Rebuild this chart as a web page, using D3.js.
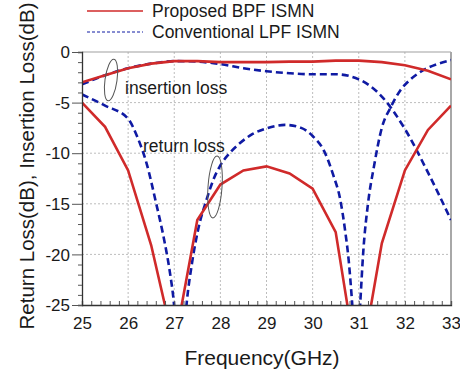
<!DOCTYPE html>
<html lang="en">
<head>
    <meta charset="UTF-8">
    <title>ISMN</title>
    <script src="https://d3js.org/d3.v7.min.js"></script>
    <style>
        body { margin: 0; background: #fff; }
        text { font-family: "Liberation Sans", Arial, sans-serif; fill: #1a1a1a; }
    </style>
</head>
<body>
    <div class="canvas"></div>
    <script>
      // frequency grid (GHz) shared by the proposed curves and conventional IL
      const freqs = [25, 25.5, 26, 26.5, 27, 27.5, 28, 28.5, 29, 29.5, 30, 30.5, 31, 31.5, 32, 32.5, 33];
      const proposedIL = [-3.0, -2.3, -1.6, -1.15, -0.9, -0.9, -1.0, -1.0, -1.0, -0.95, -0.95, -0.85, -0.85, -1.0, -1.3, -1.85, -2.7];
      const proposedRL = [-5.0, -7.4, -11.7, -19.1, -29, -16.6, -13.1, -11.7, -11.3, -12.0, -13.5, -17.8, -32, -18.9, -11.7, -7.7, -5.3];
      const conventionalIL = [-3.2, -2.3, -1.6, -1.15, -0.9, -0.95, -1.2, -1.6, -1.9, -2.1, -2.2, -2.2, -2.7, -4.4, -7.6, -11.9, -16.6];
      // conventional return loss is read more densely around the notches
      const convRLFreq = [25, 25.5, 26, 26.2, 26.4, 26.6, 26.8, 26.9, 27.0, 27.1, 27.18, 27.27, 27.38, 27.53, 27.7, 27.85, 28.0, 28.2, 28.4, 28.7, 29.0, 29.4, 29.75, 30.0, 30.25, 30.45, 30.6, 30.7, 30.78, 30.86, 30.95, 31.03, 31.1, 31.2, 31.33, 31.5, 31.7, 31.9, 32.1, 32.4, 32.7, 33];
      const convRL = [-4.2, -5.3, -6.6, -8.4, -11.0, -14.8, -19.0, -21.6, -25.2, -32, -30, -24.8, -21.0, -17.3, -14.6, -12.6, -11.2, -10.0, -9.1, -8.1, -7.55, -7.2, -7.5, -8.3, -9.8, -12.2, -14.6, -17.5, -20.5, -25, -31, -25, -19.6, -15, -11.3, -7.5, -5.4, -3.8, -2.8, -1.8, -1.2, -0.8];

      const xTicks = [25, 26, 27, 28, 29, 30, 31, 32, 33];
      const yTicks = [0, -5, -10, -15, -20, -25];
      const legendLabels = ['Proposed BPF ISMN', 'Conventional LPF ISMN'];

      const width = 460;
      const height = 372;
      const [ml, mr, mt, mb] = [82, 9, 52, 67];

      const RED = '#d02a2a';
      const BLUE = '#0f1aa3';

      const svg = d3.select('.canvas')
                      .append('svg')
                      .attr('width', width)
                      .attr('height', height);

      const x = d3.scaleLinear().domain([25, 33]).range([ml, width - mr]);
      const y = d3.scaleLinear().domain([-25, 0]).range([height - mb, mt]);

      // grid
      const grid = svg.append('g');
      grid.selectAll('.gx').data(xTicks.slice(1, -1)).enter()
        .append('line')
        .attr('x1', d => x(d)).attr('x2', d => x(d))
        .attr('y1', y(0)).attr('y2', y(-25))
        .attr('stroke', '#bdbdbd').attr('stroke-dasharray', '2,2');
      grid.selectAll('.gy').data(yTicks.slice(1, -1)).enter()
        .append('line')
        .attr('x1', x(25)).attr('x2', x(33))
        .attr('y1', d => y(d)).attr('y2', d => y(d))
        .attr('stroke', '#bdbdbd').attr('stroke-dasharray', '2,2');

      // frame: top and right in grey
      svg.append('line')
        .attr('x1', x(25)).attr('x2', x(33)).attr('y1', y(0)).attr('y2', y(0))
        .attr('stroke', '#a0a0a0').attr('stroke-width', 1.2);
      svg.append('line')
        .attr('x1', x(33)).attr('x2', x(33)).attr('y1', y(0)).attr('y2', y(-25))
        .attr('stroke', '#a8a8a8').attr('stroke-width', 2);

      // curves
      svg.append('clipPath').attr('id', 'plot')
        .append('rect')
        .attr('x', x(25)).attr('y', y(0))
        .attr('width', x(33) - x(25)).attr('height', y(-25) - y(0));

      const plot = svg.append('g').attr('clip-path', 'url(#plot)');

      const lineLin = d3.line().x(d => x(d[0])).y(d => y(d[1]));
      const lineSmooth = d3.line().x(d => x(d[0])).y(d => y(d[1])).curve(d3.curveMonotoneX);

      const pairs = (fs, vs) => fs.map((f, i) => [f, vs[i]]);

      plot.append('path')
        .attr('d', lineSmooth(pairs(convRLFreq, convRL)))
        .attr('fill', 'none').attr('stroke', BLUE)
        .attr('stroke-width', 2.6).attr('stroke-dasharray', '7,4');
      plot.append('path')
        .attr('d', lineSmooth(pairs(freqs, conventionalIL)))
        .attr('fill', 'none').attr('stroke', BLUE)
        .attr('stroke-width', 2.6).attr('stroke-dasharray', '7,4');
      plot.append('path')
        .attr('d', lineLin(pairs(freqs, proposedRL)))
        .attr('fill', 'none').attr('stroke', RED).attr('stroke-width', 2.6);
      plot.append('path')
        .attr('d', lineLin(pairs(freqs, proposedIL)))
        .attr('fill', 'none').attr('stroke', RED).attr('stroke-width', 2.6);

      // axes
      const xAxisG = svg.append('g').attr('transform', `translate(0, ${y(-25)})`);
      xAxisG.call(d3.axisBottom(x).tickValues(d3.range(25, 33.01, 0.2)).tickSize(-4).tickFormat(''));
      xAxisG.selectAll('.tick').filter(d => Math.abs(d - Math.round(d)) < 1e-6)
        .append('text')
        .attr('y', 24)
        .attr('text-anchor', 'middle')
        .attr('fill', '#1a1a1a')
        .style('font-size', '17px')
        .text(d => Math.round(d));

      const yAxisG = svg.append('g').attr('transform', `translate(${x(25)}, 0)`);
      yAxisG.call(d3.axisLeft(y).tickValues(d3.range(-25, 0.01, 1)).tickSize(4).tickFormat(''));
      yAxisG.selectAll('.tick').filter(d => d % 5 === 0)
        .select('line').attr('x2', -10);
      yAxisG.selectAll('.tick').filter(d => d % 5 === 0)
        .append('text')
        .attr('x', -12)
        .attr('dy', '0.33em')
        .attr('text-anchor', 'end')
        .attr('fill', '#1a1a1a')
        .style('font-size', '17px')
        .text(d => d);

      svg.selectAll('.domain').attr('stroke', '#333').attr('stroke-width', 1.3);
      svg.selectAll('.tick line').attr('stroke', '#555');
      xAxisG.selectAll('text').attr('font-family', null);
      yAxisG.selectAll('text').attr('font-family', null);

      // axis titles
      svg.append('text')
        .attr('x', 262).attr('y', 365)
        .attr('text-anchor', 'middle')
        .style('font-size', '21px')
        .text('Frequency(GHz)');
      svg.append('text')
        .attr('transform', 'translate(34, 166) rotate(-90)')
        .attr('text-anchor', 'middle')
        .style('font-size', '20.5px')
        .text('Return Loss(dB), Insertion Loss(dB)');

      // annotations
      svg.append('text').attr('x', 125).attr('y', 94)
        .style('font-size', '17.5px').text('insertion loss');
      svg.append('text').attr('x', 143).attr('y', 152)
        .style('font-size', '17.5px').text('return loss');
      svg.append('ellipse')
        .attr('cx', 0).attr('cy', 0).attr('rx', 6).attr('ry', 21)
        .attr('transform', 'translate(111, 80) rotate(8)')
        .attr('fill', 'none').attr('stroke', '#555').attr('stroke-width', 1);
      svg.append('ellipse')
        .attr('cx', 0).attr('cy', 0).attr('rx', 7).attr('ry', 31)
        .attr('transform', 'translate(215, 187) rotate(4)')
        .attr('fill', 'none').attr('stroke', '#555').attr('stroke-width', 1);

      // legend
      const legend = svg.append('g');
      legend.append('line')
        .attr('x1', 87).attr('x2', 143).attr('y1', 11).attr('y2', 11)
        .attr('stroke', RED).attr('stroke-width', 1.6);
      legend.append('line')
        .attr('x1', 87).attr('x2', 143).attr('y1', 32).attr('y2', 32)
        .attr('stroke', BLUE).attr('stroke-width', 1).attr('stroke-dasharray', '3,2');
      legend.selectAll('.lt').data(legendLabels).enter()
        .append('text')
        .attr('x', 152)
        .attr('y', (d, i) => 17 + i * 21)
        .style('font-size', '17.5px')
        .text(d => d);
    </script>
</body>
</html>
